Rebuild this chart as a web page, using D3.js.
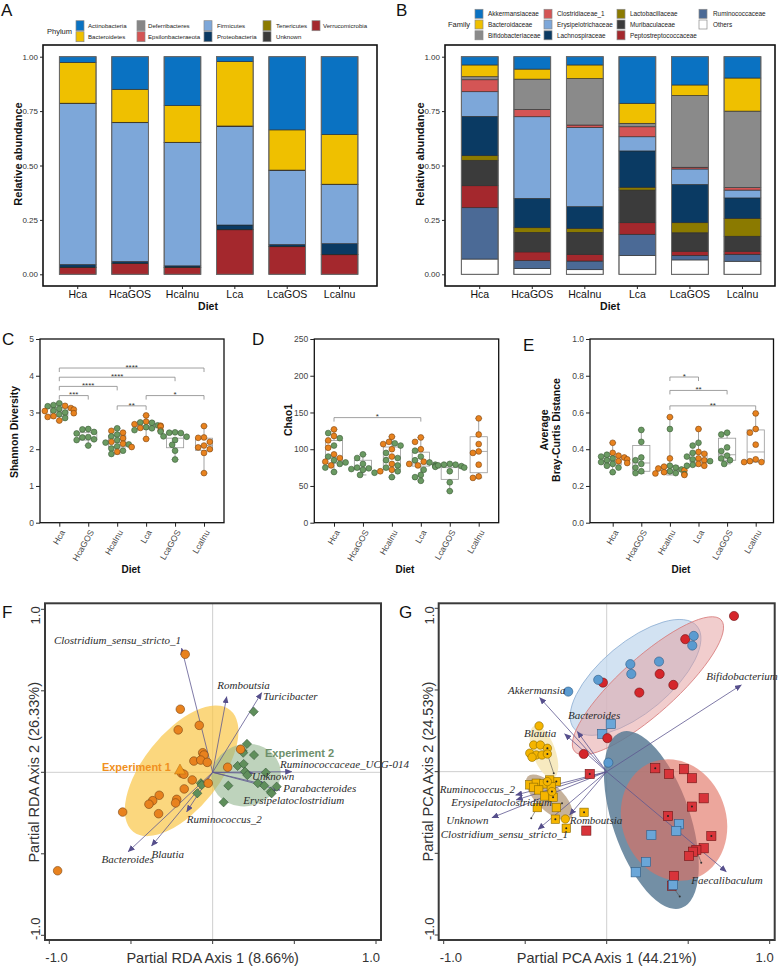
<!DOCTYPE html>
<html><head><meta charset="utf-8">
<script src="https://cdn.jsdelivr.net/npm/d3@7/dist/d3.min.js"></script>
<style>
html,body{margin:0;padding:0;background:#fff;}
svg{display:block;}
text{font-family:Arial,"Liberation Sans",Helvetica,sans-serif;}
text.sp{font-family:"Liberation Serif","Times New Roman","DejaVu Serif",serif;font-style:italic;}
</style></head><body>
<svg id="fig" width="778" height="968"></svg>
<script>
// ---------------- DATA ----------------
const diets = ["Hca","HcaGOS","HcaInu","Lca","LcaGOS","LcaInu"];

// Panel A (phylum relative abundance)
const phyla = ["Actinobacteria","Bacteroidetes","Deferribacteres","Epsilonbacteraeota","Firmicutes","Proteobacteria","Tenericutes","Unknown","Verrucomicrobia"];
const actinobacteria    = [0.026,0.150,0.225,0.023,0.337,0.358];
const bacteroidetes     = [0.188,0.152,0.169,0.296,0.185,0.229];
const deferribacteres   = [0.001,0.001,0.001,0.001,0.001,0.001];
const epsilonbacteraeota= [0.001,0.001,0.001,0.001,0.001,0.001];
const firmicutes        = [0.741,0.639,0.567,0.454,0.341,0.272];
const proteobacteria    = [0.012,0.008,0.006,0.020,0.008,0.049];
const tenericutes       = [0.001,0.001,0.001,0.001,0.001,0.001];
const unknownPhylum     = [0.001,0.001,0.001,0.001,0.001,0.001];
const verrucomicrobia   = [0.031,0.049,0.031,0.205,0.127,0.090];

// Panel B (family relative abundance)
const families = ["Akkermansiaceae","Bacteroidaceae","Bifidobacteriaceae","Clostridiaceae_1","Erysipelotrichaceae","Lachnospiraceae","Lactobacillaceae","Muribaculaceae","Peptostreptococcaceae","Ruminococcaceae","Others"];
const akkermansiaceae   = [0.038,0.057,0.038,0.214,0.130,0.098];
const bacteroidaceae    = [0.054,0.046,0.062,0.092,0.048,0.152];
const bifidobacteriaceae= [0.014,0.140,0.214,0.016,0.330,0.352];
const clostridiaceae1   = [0.055,0.033,0.011,0.046,0.008,0.011];
const erysipelotrichaceae=[0.113,0.375,0.364,0.065,0.071,0.036];
const lachnospiraceae   = [0.181,0.135,0.100,0.167,0.176,0.094];
const lactobacillaceae  = [0.021,0.021,0.018,0.013,0.046,0.082];
const muribaculaceae    = [0.117,0.090,0.101,0.150,0.085,0.069];
const peptostreptococcaceae=[0.101,0.040,0.031,0.053,0.019,0.014];
const ruminococcaceae   = [0.236,0.037,0.040,0.097,0.021,0.032];
const othersFamily      = [0.070,0.026,0.021,0.087,0.066,0.060];

// Panel C: Shannon diversity [diet index, value, experiment]
const shannonPoints = [
 [0,3.25,2],[0,3.20,2],[0,3.18,1],[0,3.17,2],[0,3.12,1],[0,3.10,2],[0,3.08,1],[0,3.05,2],[0,3.04,1],[0,3.00,2],[0,2.98,1],[0,2.95,2],[0,2.90,1],[0,2.88,1],[0,2.85,2],[0,2.78,1],
 [1,2.55,2],[1,2.54,2],[1,2.47,2],[1,2.43,2],[1,2.33,2],[1,2.32,2],[1,2.27,2],[1,2.25,2],[1,2.10,2],
 [2,2.57,2],[2,2.50,1],[2,2.45,1],[2,2.40,2],[2,2.35,2],[2,2.30,1],[2,2.25,2],[2,2.20,1],[2,2.18,2],[2,2.15,1],[2,2.13,2],[2,2.08,2],[2,2.06,1],[2,2.02,2],[2,1.96,2],[2,1.93,1],[2,1.87,2],
 [3,2.92,1],[3,2.75,1],[3,2.73,2],[3,2.72,2],[3,2.68,1],[3,2.65,2],[3,2.64,1],[3,2.60,2],[3,2.58,1],[3,2.57,2],[3,2.62,1],[3,2.52,2],[3,2.51,1],[3,2.48,2],[3,2.28,1],
 [4,2.46,2],[4,2.45,2],[4,2.44,2],[4,2.35,2],[4,2.34,2],[4,2.25,2],[4,2.12,2],[4,1.96,2],[4,1.72,2],
 [5,2.63,1],[5,2.32,1],[5,2.31,1],[5,2.20,1],[5,2.10,1],[5,2.05,1],[5,2.00,1],[5,1.90,1],[5,1.35,1]];
const shannonBoxes = [[2.77,2.90,3.02,3.13,3.25],[2.10,2.25,2.30,2.45,2.55],[1.87,2.06,2.18,2.37,2.57],[2.28,2.55,2.64,2.76,2.92],[1.72,2.04,2.30,2.45,2.47],[1.35,1.97,2.10,2.30,2.63]];
const shannonSig = [[0,5,4.21,"****"],[0,4,3.96,"****"],[0,2,3.71,"****"],[0,1,3.46,"***"],[2,3,3.18,"**"],[3,5,3.46,"*"]];

// Panel D: Chao1
const chaoPoints = [
 [0,127,1],[0,122,2],[0,118,1],[0,115,2],[0,112,1],[0,105,2],[0,102,1],[0,93,1],[0,90,2],[0,88,1],[0,85,2],[0,83,1],[0,82,2],[0,80,2],[0,78,1],[0,75,2],[0,69,2],
 [1,93,2],[1,88,2],[1,80,2],[1,75,2],[1,74,2],[1,73,2],[1,72,2],[1,68,2],[1,65,2],
 [2,117,1],[2,110,1],[2,108,2],[2,107,1],[2,105,2],[2,100,1],[2,95,2],[2,90,1],[2,88,2],[2,85,2],[2,80,1],[2,78,2],[2,75,2],[2,72,1],[2,70,2],[2,70,1],[2,62,2],
 [3,116,1],[3,110,1],[3,100,1],[3,98,2],[3,90,2],[3,85,2],[3,83,1],[3,82,2],[3,80,1],[3,79,2],[3,78,1],[3,77,2],[3,76,2],[3,72,2],[3,65,2],[3,62,2],[3,57,2],
 [4,80,2],[4,79,2],[4,79,2],[4,78,2],[4,77,2],[4,75,2],[4,70,2],[4,55,2],[4,43,2],
 [5,142,1],[5,120,1],[5,107,1],[5,97,1],[5,95,1],[5,79,1],[5,63,1],[5,61,1]];
const chaoBoxes = [[69,81,89,112,127],[65,72,74,85,93],[62,72,89,103,117],[57,77,80,96,116],[43,59,75,78,80],[61,68,97,117,142]];
const chaoSig = [[0,3,143,"*"]];

// Panel E: average Bray-Curtis distance
const brayPoints = [
 [0,0.435,1],[0,0.38,1],[0,0.37,2],[0,0.365,1],[0,0.36,2],[0,0.355,1],[0,0.35,2],[0,0.345,1],[0,0.34,2],[0,0.335,1],[0,0.33,2],[0,0.325,1],[0,0.32,2],[0,0.31,2],[0,0.30,2],[0,0.275,2],
 [1,0.505,2],[1,0.44,2],[1,0.355,2],[1,0.34,2],[1,0.32,2],[1,0.30,2],[1,0.28,2],[1,0.27,2],
 [2,0.575,1],[2,0.51,2],[2,0.35,1],[2,0.31,2],[2,0.305,1],[2,0.30,2],[2,0.295,1],[2,0.29,2],[2,0.285,1],[2,0.28,2],[2,0.275,1],[2,0.27,2],[2,0.268,1],[2,0.265,2],[2,0.26,1],
 [3,0.51,1],[3,0.435,2],[3,0.42,2],[3,0.385,1],[3,0.38,2],[3,0.375,1],[3,0.36,2],[3,0.35,1],[3,0.345,2],[3,0.34,1],[3,0.335,2],[3,0.32,1],[3,0.315,2],[3,0.31,1],[3,0.31,2],
 [4,0.49,2],[4,0.48,2],[4,0.41,2],[4,0.39,2],[4,0.365,2],[4,0.35,2],[4,0.34,2],[4,0.32,2],
 [5,0.595,1],[5,0.51,1],[5,0.49,1],[5,0.425,1],[5,0.345,1],[5,0.335,1],[5,0.33,1],[5,0.33,1]];
const brayBoxes = [[0.275,0.315,0.335,0.36,0.435],[0.27,0.28,0.325,0.42,0.505],[0.26,0.27,0.285,0.31,0.575],[0.31,0.33,0.345,0.38,0.51],[0.32,0.34,0.37,0.46,0.49],[0.33,0.335,0.385,0.505,0.595]];
const braySig = [[2,3,0.793,"*"],[2,4,0.72,"**"],[2,5,0.636,"**"]];

// Panel F: partial RDA
const rdaExp1 = [[-0.168,0.724],[-0.198,0.387],[-0.082,0.288],[-0.211,0.26],[-0.061,0.12],[-0.053,0.106],[0.171,0.141],[-0.115,0.069],[-0.073,0.075],[-0.033,0.061],[0.092,0.031],[-0.19,-0.006],[-0.176,-0.012],[-0.125,-0.047],[-0.027,-0.067],[-0.174,-0.102],[-0.327,-0.141],[-0.367,-0.174],[-0.39,-0.196],[-0.22,-0.166],[-0.227,-0.188],[-0.331,-0.254],[-0.551,-0.244],[-0.949,-0.604]];
const rdaExp2 = [[0.251,0.372],[0.21,0.174],[0.184,0.131],[0.253,0.106],[0.187,0.12],[0.153,0.039],[0.19,0.051],[0.198,0.004],[0.212,-0.017],[0.325,-0.002],[0.277,-0.067],[0.316,-0.082],[0.392,-0.088],[0.355,-0.119],[0.361,-0.129],[0.096,-0.082],[-0.072,-0.067],[-0.067,-0.078],[-0.094,-0.129],[0.067,-0.184]];
const rdaCentroid1 = [-0.2,0.014];
const rdaEllipses = [[-0.19,0.009,0.476,0.233,-51.5],[0.204,-0.017,0.214,0.19,-15]];
const rdaArrows = [["Clostridium_sensu_stricto_1",-0.19,0.761],["Romboutsia",0.086,0.464],["Turicibacter",0.3,0.488],["Ruminococcaceae_UCG-014",0.484,0.004],["Unknown",0.249,-0.006],["Parabacteroides",0.412,-0.109],["Erysipelatoclostridium",0.331,-0.078],["Ruminococcus_2",-0.159,-0.242],["Bacteroides",-0.517,-0.487],["Blautia",-0.374,-0.452]];

// Panel G: partial PCA
const pcaRedCircles = [[0.781,0.953],[0.482,0.811],[0.325,0.598],[0.409,0.531],[0.2,0.484],[-0.023,0.545],[0.004,0.205],[-0.141,0.108]];
const pcaBlueCircles = [[0.534,0.831],[0.525,0.772],[0.321,0.674],[0.145,0.658],[0.151,0.598],[-0.052,0.562],[-0.236,0.49],[0.01,0.055]];
const pcaRedSquares = [[0.298,0.021,1],[0.382,-0.014,0],[0.474,0.015,0],[0.523,-0.04,0],[0.595,-0.163,0],[0.523,-0.214,1],[0.376,-0.271,1],[0.642,-0.394,1],[0.595,-0.469,0],[0.55,-0.479,1],[0.529,-0.49,0],[0.505,-0.516,0],[0.413,-0.638,0],[0.401,-0.698,0],[-0.104,-0.014,1],[-0.125,-0.361,0]];
const pcaBlueSquares = [[0.444,-0.322],[0.427,-0.363],[0.274,-0.388],[0.241,-0.553],[0.178,-0.616],[0.407,-0.694],[0.025,0.292],[-0.027,0.231]];
const pcaYellowCircles = [[-0.415,0.28,0],[-0.448,0.163,0],[-0.407,0.163,0],[-0.472,0.113,0],[-0.432,0.102,0],[-0.397,0.102,0],[-0.458,0.088,0],[-0.364,0.143,1],[-0.364,0.108,1],[-0.364,-0.061,1],[-0.336,-0.122,1],[-0.254,-0.29,0]];
const pcaYellowSquares = [[-0.472,-0.081,0],[-0.432,-0.071,0],[-0.387,-0.075,0],[-0.448,-0.096,0],[-0.417,-0.112,0],[-0.38,-0.149,0],[-0.309,-0.061,1],[-0.35,-0.051,1],[-0.34,-0.092,0],[-0.329,-0.157,1],[-0.426,-0.22,0],[-0.309,-0.22,0],[-0.315,-0.291,1],[-0.248,-0.347,1],[-0.139,-0.249,1]];
const pcaLinks = [[0.55,-0.479,0.58,-0.557],[0.401,-0.698,0.448,-0.765],[-0.426,-0.22,-0.463,-0.285],[-0.364,0.108,-0.325,-0.01],[-0.309,-0.22,-0.274,-0.194]];
const pcaEllipses = [[0.177,0.577,0.491,0.215,-39.9],[0.253,0.526,0.604,0.172,-41.9],[0.274,-0.296,0.571,0.238,71.2],[0.413,-0.296,0.38,0.319,70],[-0.385,0.121,0.17,0.07,70],[-0.352,-0.157,0.184,0.08,44]];
const pcaArrows = [["Bifidobacterium",0.826,0.531],["Akkermansia",-0.411,0.453],["Bacteroides",-0.18,0.245],["Blautia",-0.258,0.231],["Ruminococcus_2",-0.558,-0.143],["Erysipelatoclostridium",-0.555,-0.173],["Unknown",-0.704,-0.282],["Clostridium_sensu_stricto_1",-0.421,-0.353],["Romboutsia",-0.227,-0.265],["Faecalibaculum",0.734,-0.612]];

// ---------------- STYLE / LAYOUT ----------------
const SANS = "Arial, 'Liberation Sans', Helvetica, sans-serif";
const phylumColors = ["#0A72C2","#EFC000","#868686","#D45555","#7DA7D9","#0A3A63","#8B7A00","#3B3B3B","#A4282D"];
const familyColors = ["#0A72C2","#EFC000","#8A8A8A","#D45555","#7DA7D9","#0A3A63","#8B7A00","#3B3B3B","#A4282D","#4B6A96","#FFFFFF"];
const ORANGE = "#E8821E", GREEN = "#6A9A62";

const svg = d3.select("#fig");
svg.append("defs").append("marker").attr("id","arr").attr("viewBox","0 0 7 6")
  .attr("refX",6.5).attr("refY",3).attr("markerWidth",7).attr("markerHeight",6)
  .attr("markerUnits","userSpaceOnUse").attr("orient","auto")
  .append("path").attr("d","M0,0L7,3L0,6Z").attr("fill","#564F8C");

function styleAxis(sel,size,color){
  sel.selectAll("text").attr("font-size",size).attr("fill",color).attr("font-family",SANS);
  sel.selectAll("line").attr("stroke","#222");
}

// panel letters
[["A",1,16],["B",396,16],["C",2,345],["D",252,345],["E",523,351],["F",2,618],["G",399,618]].forEach(([t,x,y])=>{
  svg.append("text").attr("x",x).attr("y",y).attr("font-size",17).attr("fill","#111").text(t);
});

// ---------- bar panels ----------
function barPanel(o){
  const g = svg.append("g");
  const x = d3.scaleBand().domain(diets).range(o.xr).paddingInner(0.3).paddingOuter(0.25);
  const y = d3.scaleLinear().domain([0,1]).range([274.3,56.7]);
  const rows = diets.map((d,i)=>{const r={diet:d}; o.keys.forEach((k,j)=>{r[k]=o.vals[j][i];}); return r;});
  const series = d3.stack().keys(o.keys.slice().reverse()).offset(d3.stackOffsetExpand)(rows);
  g.append("g").selectAll("g").data(series).join("g").attr("fill",s=>o.colors[o.keys.indexOf(s.key)])
    .selectAll("rect").data(s=>s).join("rect")
    .attr("x",d=>x(d.data.diet)).attr("width",x.bandwidth())
    .attr("y",d=>y(d[1])).attr("height",d=>Math.max(0,y(d[0])-y(d[1])))
    .attr("stroke","#2a2a2a").attr("stroke-width",0.6);
  g.append("g").selectAll("rect").data(diets).join("rect")
    .attr("x",d=>x(d)).attr("width",x.bandwidth()).attr("y",y(1)).attr("height",y(0)-y(1))
    .attr("fill","none").attr("stroke","#6a6a6a").attr("stroke-width",1);
  g.append("rect").attr("x",o.fx[0]).attr("y",45).attr("width",o.fx[1]-o.fx[0]).attr("height",241)
    .attr("fill","none").attr("stroke","#111").attr("stroke-width",1.6);
  const ya = g.append("g").attr("transform",`translate(${o.fx[0]},0)`)
    .call(d3.axisLeft(y).tickValues([0,0.25,0.5,0.75,1]).tickFormat(d3.format(".2f")).tickSize(3).tickPadding(2));
  ya.select(".domain").remove(); styleAxis(ya,8,"#333");
  const xa = g.append("g").attr("transform","translate(0,286)")
    .call(d3.axisBottom(x).tickSize(3).tickPadding(2));
  xa.select(".domain").remove(); styleAxis(xa,10.5,"#111");
  g.append("text").attr("transform",`translate(${o.ytx},154) rotate(-90)`).attr("text-anchor","middle")
    .attr("font-size",11).attr("font-weight","bold").attr("fill","#111").text("Relative abundance");
  g.append("text").attr("x",o.dietX).attr("y",310).attr("text-anchor","middle")
    .attr("font-size",10.5).attr("font-weight","bold").attr("fill","#111").text("Diet");
  // legend
  const lg = g.append("g");
  lg.append("text").attr("x",o.legTitle[0]).attr("y",o.legTitle[1]).attr("font-size",7.5).attr("fill","#222").text(o.legName);
  o.keys.forEach((k,i)=>{
    const c = Math.floor(i/o.nrow), r = i%o.nrow;
    const kx = o.legKeyX[c], ky = o.legRowY[r];
    lg.append("rect").attr("x",kx).attr("y",ky-o.kh/2).attr("width",8).attr("height",o.kh)
      .attr("fill",o.colors[i]).attr("stroke","#8a8a8a").attr("stroke-width",0.7);
    lg.append("text").attr("x",o.legTextX[c]).attr("y",ky+2.2).attr("font-size",o.lfs).attr("fill","#222").text(k);
  });
}

barPanel({keys:phyla, colors:phylumColors,
  vals:[actinobacteria,bacteroidetes,deferribacteres,epsilonbacteraeota,firmicutes,proteobacteria,tenericutes,unknownPhylum,verrucomicrobia],
  xr:[46.3,371], fx:[43,377], ytx:22, dietX:208,
  legName:"Phylum", legTitle:[47,33.5], nrow:2, kh:10, lfs:6.1,
  legKeyX:[76,137,204,263,312], legTextX:[88,148,217,276,323], legRowY:[25.7,36.7]});

barPanel({keys:families, colors:familyColors,
  vals:[akkermansiaceae,bacteroidaceae,bifidobacteriaceae,clostridiaceae1,erysipelotrichaceae,lachnospiraceae,lactobacillaceae,muribaculaceae,peptostreptococcaceae,ruminococcaceae,othersFamily],
  xr:[448.2,774], fx:[445,775], ytx:424, dietX:610,
  legName:"Family", legTitle:[448,27], nrow:3, kh:9, lfs:6.4,
  legKeyX:[475,544,617,699], legTextX:[488,557,630,713], legRowY:[13.8,24.5,35.3]});

// ---------- box/dot panels ----------
function swarm(pts, xc, y, r){
  const placed = [];
  const offs = [0,-1,1,-2,2,-3,3,-4,4,-5,5].map(k=>k*r*1.0);
  return pts.slice().sort((a,b)=>b[1]-a[1]).map(p=>{
    const yy = y(p[1]);
    let best = offs[offs.length-1];
    for (const o of offs){
      if (placed.every(q=>(q.x-(xc+o))**2+(q.y-yy)**2 >= (1.85*r)**2)){best=o;break;}
    }
    const pt = {x:xc+best, y:yy, e:p[2]};
    placed.push(pt); return pt;
  });
}

function boxPanel(o){
  const g = svg.append("g");
  const top = 339, bot = 522.7;
  const x = d3.scalePoint().domain(diets).range(o.xr);
  const y = d3.scaleLinear().domain(o.dom).range([bot,top]);
  g.append("rect").attr("x",o.x0).attr("y",top).attr("width",o.x1-o.x0).attr("height",bot-top)
    .attr("fill","none").attr("stroke","#111").attr("stroke-width",1.3);
  const ya = g.append("g").attr("transform",`translate(${o.x0},0)`)
    .call(d3.axisLeft(y).tickValues(o.ticks).tickFormat(o.fmt).tickSize(4).tickPadding(2));
  ya.select(".domain").remove(); styleAxis(ya,8.5,"#444");
  const xa = g.append("g").attr("transform",`translate(0,${bot})`)
    .call(d3.axisBottom(x).tickSize(4));
  xa.select(".domain").remove(); styleAxis(xa,8.5,"#444");
  xa.selectAll("text").attr("y",0).attr("dy","0.35em").attr("x",0)
    .attr("transform","translate(3,8) rotate(-60)").attr("text-anchor","end");
  // brackets
  o.sig.forEach(([a,b,v,lab])=>{
    const yy = y(v), xa1 = x(diets[a]), xb = x(diets[b]);
    g.append("path").attr("d",`M${xa1},${yy+4}V${yy}H${xb}V${yy+4}`).attr("fill","none")
      .attr("stroke","#888").attr("stroke-width",0.8);
    g.append("text").attr("x",(xa1+xb)/2).attr("y",yy+1.8).attr("text-anchor","middle")
      .attr("font-size",8).attr("fill","#333").text(lab);
  });
  // boxes
  o.boxes.forEach(([lo,q1,md,q3,hi],i)=>{
    const cx = x(diets[i]), hw = 8.6;
    g.append("path").attr("d",`M${cx},${y(q3)}V${y(hi)}M${cx-3.5},${y(hi)}H${cx+3.5}M${cx},${y(q1)}V${y(lo)}M${cx-3.5},${y(lo)}H${cx+3.5}`)
      .attr("stroke","#8a8a8a").attr("stroke-width",0.8).attr("fill","none");
    g.append("rect").attr("x",cx-hw).attr("y",y(q3)).attr("width",2*hw).attr("height",y(q1)-y(q3))
      .attr("fill","#fff").attr("stroke","#999").attr("stroke-width",0.8);
    g.append("line").attr("x1",cx-hw).attr("x2",cx+hw).attr("y1",y(md)).attr("y2",y(md))
      .attr("stroke","#999").attr("stroke-width",0.8);
  });
  // points
  diets.forEach((d,i)=>{
    const pts = swarm(o.points.filter(p=>p[0]===i), x(d), y, 2.9);
    g.append("g").selectAll("circle").data(pts).join("circle")
      .attr("cx",p=>p.x).attr("cy",p=>p.y).attr("r",2.9)
      .attr("fill",p=>p.e===1?ORANGE:GREEN).attr("stroke",p=>p.e===1?"#7a4512":"#3c5a38").attr("stroke-width",0.6);
  });
  g.append("text").attr("x",o.dietX).attr("y",573).attr("text-anchor","middle")
    .attr("font-size",10).attr("font-weight","bold").attr("fill","#111").text("Diet");
  o.titles.forEach(([t,tx])=>{
    g.append("text").attr("transform",`translate(${tx},${o.titleY}) rotate(-90)`).attr("text-anchor","middle")
      .attr("font-size",10.5).attr("font-weight","bold").attr("fill","#111").text(t);
  });
}

boxPanel({x0:40,x1:224,xr:[59.3,204],dom:[0,5],ticks:[0,1,2,3,4,5],fmt:d3.format("d"),
  points:shannonPoints,boxes:shannonBoxes,sig:shannonSig,dietX:131,titles:[["Shannon Diversity",17.5]],titleY:432});
boxPanel({x0:314.3,x1:498.7,xr:[334,478.7],dom:[0,250],ticks:[0,50,100,150,200,250],fmt:d3.format("d"),
  points:chaoPoints,boxes:chaoBoxes,sig:chaoSig,dietX:405,titles:[["Chao1",292]],titleY:420});
boxPanel({x0:590,x1:773.5,xr:[612.7,755.7],dom:[0,1],ticks:[0,0.2,0.4,0.6,0.8,1],fmt:d3.format(".1f"),
  points:brayPoints,boxes:brayBoxes,sig:braySig,dietX:681,titles:[["Average",548],["Bray-Curtis Distance",559.5]],titleY:430});

// ---------- ordination panels ----------
function ordPanel(o){
  const g = svg.append("g");
  const top = 603.3, bot = 940;
  const x = d3.scaleLinear().domain([-1,1]).range(o.xr);
  const y = d3.scaleLinear().domain([-1,1]).range(o.yr);
  const sc = x(1)-x(0);
  g.append("line").attr("x1",x(0)).attr("x2",x(0)).attr("y1",top).attr("y2",bot).attr("stroke","#cfcfcf").attr("stroke-width",1);
  g.append("line").attr("x1",o.x0).attr("x2",o.x1).attr("y1",y(0)).attr("y2",y(0)).attr("stroke","#cfcfcf").attr("stroke-width",1);
  o.ellipses.forEach((e,i)=>{
    g.append("ellipse").attr("transform",`translate(${x(e[0])},${y(e[1])}) rotate(${e[4]})`)
      .attr("rx",e[2]*sc).attr("ry",e[3]*sc)
      .attr("fill",o.ellStyle[i][0]).attr("fill-opacity",o.ellStyle[i][1])
      .attr("stroke",o.ellStyle[i][2]).attr("stroke-width",0.8);
  });
  if (o.links) o.links.forEach(l=>{
    g.append("line").attr("x1",x(l[0])).attr("y1",y(l[1])).attr("x2",x(l[2])).attr("y2",y(l[3]))
      .attr("stroke","#555").attr("stroke-width",0.6);
    g.append("circle").attr("cx",x(l[2])).attr("cy",y(l[3])).attr("r",1).attr("fill","#333");
  });
  o.arrows.forEach((a,i)=>{
    g.append("line").attr("x1",x(0)).attr("y1",y(0)).attr("x2",x(a[1])).attr("y2",y(a[2]))
      .attr("stroke","#5E5891").attr("stroke-width",0.8).attr("marker-end","url(#arr)");
  });
  o.drawPoints(g,x,y);
  o.arrows.forEach((a,i)=>{
    g.append("text").attr("class","sp").attr("x",x(a[1])+o.labOff[i][0]).attr("y",y(a[2])+o.labOff[i][1])
      .attr("font-size",11).attr("fill","#2b2b2b").text(a[0]);
  });
  g.append("rect").attr("x",o.x0).attr("y",top).attr("width",o.x1-o.x0).attr("height",bot-top)
    .attr("fill","none").attr("stroke","#3a3a3a").attr("stroke-width",2);
  [-1,-0.5,0,0.5,1].forEach(t=>{
    g.append("line").attr("x1",x(t)).attr("x2",x(t)).attr("y1",bot).attr("y2",bot+4).attr("stroke","#3a3a3a").attr("stroke-width",1);
    g.append("line").attr("x1",o.x0-4).attr("x2",o.x0).attr("y1",y(t)).attr("y2",y(t)).attr("stroke","#3a3a3a").attr("stroke-width",1);
  });
  g.append("text").attr("x",x(-1)-4).attr("y",962).attr("font-size",13).attr("fill","#333").text("-1.0");
  g.append("text").attr("x",x(1)+4).attr("y",962).attr("text-anchor","end").attr("font-size",13).attr("fill","#333").text("1.0");
  g.append("text").attr("transform",`translate(${o.x0-5},${top+3}) rotate(-90)`).attr("text-anchor","end").attr("font-size",13).attr("fill","#333").text("1.0");
  g.append("text").attr("transform",`translate(${o.x0-5},${bot}) rotate(-90)`).attr("text-anchor","start").attr("font-size",13).attr("fill","#333").text("-1.0");
  g.append("text").attr("x",x(0)).attr("y",963).attr("text-anchor","middle").attr("font-size",14.5).attr("fill","#333").text(o.xt);
  g.append("text").attr("transform",`translate(${o.x0-6},${y(0)}) rotate(-90)`).attr("text-anchor","middle").attr("font-size",14.5).attr("fill","#333").text(o.yt);
}

function diamond(g,cx,cy,s,fill,stroke){
  g.append("path").attr("d",`M${cx},${cy-s}L${cx+s},${cy}L${cx},${cy+s}L${cx-s},${cy}Z`).attr("fill",fill).attr("stroke",stroke).attr("stroke-width",0.6);
}

ordPanel({x0:45,x1:381,xr:[49.3,376],yr:[935.3,609.3],
  xt:"Partial RDA Axis 1 (8.66%)", yt:"Partial RDA Axis 2 (26.33%)",
  ellipses:rdaEllipses, ellStyle:[["#F9C84C",0.72,"none"],["#93B58F",0.6,"none"]],
  arrows:rdaArrows,
  labOff:[[-127.7,-4],[-9.4,-7.7],[1.6,7.3],[-11.7,-3.2],[-1.3,6.7],[3.3,1.5],[-23.4,18.5],[0,11.3],[-26.6,11.3],[0,12]],
  drawPoints:(g,x,y)=>{
    rdaExp2.forEach(p=>diamond(g,x(p[0]),y(p[1]),4.6,"#5F8F5B","#35553a"));
    rdaExp1.forEach(p=>g.append("circle").attr("cx",x(p[0])).attr("cy",y(p[1])).attr("r",4.3)
      .attr("fill",ORANGE).attr("stroke","#7a4512").attr("stroke-width",0.6));
    const cx = x(rdaCentroid1[0]), cy = y(rdaCentroid1[1]);
    g.append("path").attr("d",`M${cx},${cy-6}L${cx+5.5},${cy+4}L${cx-5.5},${cy+4}Z`).attr("fill","#F39A1E").attr("stroke","#b56a10").attr("stroke-width",0.5);
    g.append("text").attr("x",cx-9).attr("y",cy+0.5).attr("text-anchor","end").attr("font-size",11).attr("font-weight","bold").attr("fill","#F0901E").text("Experiment 1");
    g.append("text").attr("x",x(rdaEllipses[1][0])+19).attr("y",y(rdaEllipses[1][1])-18.5).attr("font-size",11).attr("font-weight","bold").attr("fill","#6E8F6B").text("Experiment 2");
  }});

function sq(g,cx,cy,s,fill,stroke){
  g.append("rect").attr("x",cx-s).attr("y",cy-s).attr("width",2*s).attr("height",2*s).attr("fill",fill).attr("stroke",stroke).attr("stroke-width",0.6);
}
function dot(g,cx,cy){ g.append("circle").attr("cx",cx).attr("cy",cy).attr("r",1).attr("fill","#222"); }

ordPanel({x0:438.7,x1:774.7,xr:[443.7,769.7],yr:[935,608.3],
  xt:"Partial PCA Axis 1 (44.21%)", yt:"Partial PCA Axis 2 (24.53%)",
  ellipses:pcaEllipses,
  ellStyle:[["#C3D8EE",0.75,"#90B0D4"],["#E49C9C",0.5,"#D77C7C"],["#5B7B95",0.85,"none"],["#E0705F",0.62,"none"],["#F6E6B5",0.85,"none"],["#AE9270",0.7,"none"]],
  arrows:pcaArrows, links:pcaLinks,
  labOff:[[-35,-5],[-31.7,-3.7],[-9.3,-12.7],[-40.7,3],[-76,-2],[-65,6],[-45.7,6.3],[-97.3,8.7],[0,9],[-35,12.3]],
  drawPoints:(g,x,y)=>{
    pcaRedSquares.forEach(p=>{sq(g,x(p[0]),y(p[1]),4.6,"#D8343A","#6e1616"); if(p[2]) dot(g,x(p[0]),y(p[1]));});
    pcaBlueSquares.forEach(p=>sq(g,x(p[0]),y(p[1]),4.6,"#6AA6D8","#2d5b85"));
    pcaRedCircles.forEach(p=>g.append("circle").attr("cx",x(p[0])).attr("cy",y(p[1])).attr("r",4.6).attr("fill","#D5262B").attr("stroke","#6e1012").attr("stroke-width",0.6));
    pcaBlueCircles.forEach(p=>g.append("circle").attr("cx",x(p[0])).attr("cy",y(p[1])).attr("r",4.6).attr("fill","#5B9BD0").attr("stroke","#2d5b85").attr("stroke-width",0.6));
    pcaYellowSquares.forEach(p=>{sq(g,x(p[0]),y(p[1]),4.2,"#F5B500","#8a6a00"); if(p[2]) dot(g,x(p[0]),y(p[1]));});
    pcaYellowCircles.forEach(p=>{g.append("circle").attr("cx",x(p[0])).attr("cy",y(p[1])).attr("r",4.2).attr("fill","#F5B500").attr("stroke","#8a6a00").attr("stroke-width",0.6); if(p[2]) dot(g,x(p[0]),y(p[1]));});
  }});
</script></body></html>
